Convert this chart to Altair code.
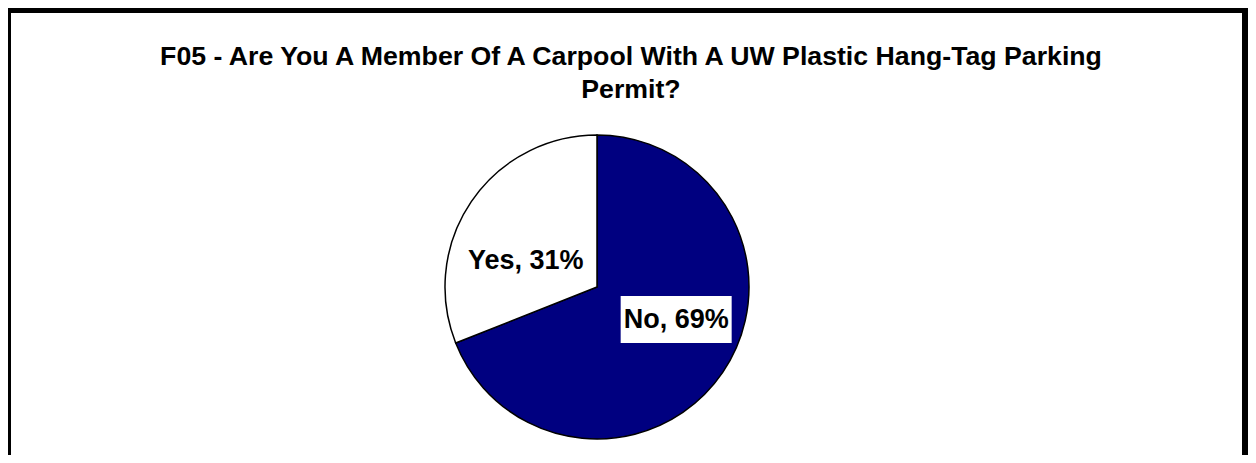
import altair as alt
import pandas as pd

# ---- data ----
categories = ["No", "Yes"]
percents = [69, 31]
label_texts = ["No, 69%", "Yes, 31%"]
slice_colors = ["#000080", "#FFFFFF"]
title_lines = [
    "F05 - Are You A Member Of A Carpool With A UW Plastic Hang-Tag Parking",
    "Permit?",
]

df = pd.DataFrame({
    "category": categories,
    "percent": percents,
    "label": label_texts,
    "order": list(range(len(categories))),
})
one = pd.DataFrame({"k": [0]})

# ---- layout ----
W, H = 1240, 447
CX, CY, R = 589, 279, 152
LR = 80
FONT = "Liberation Sans"
FS = 27
TITLE_FS = 26.7

base = alt.Chart(df)

pie = base.mark_arc(radius=R, stroke="black", strokeWidth=1.5).encode(
    theta=alt.Theta("percent:Q", stack=True),
    color=alt.Color("category:N",
                    scale=alt.Scale(domain=categories, range=slice_colors),
                    legend=None),
    order=alt.Order("order:Q"),
    x=alt.value(CX),
    y=alt.value(CY),
)

labelled = base.transform_joinaggregate(
    total="sum(percent)"
).transform_window(
    cum="sum(percent)", sort=[alt.SortField("order")], frame=[None, 0]
).transform_calculate(
    ang="2*PI*(datum.cum - datum.percent/2)/datum.total"
).transform_calculate(
    lx=f"{CX} + {LR}*sin(datum.ang)",
    ly=f"{CY} - {LR}*cos(datum.ang)",
)

NO_DX, NO_DY = 13, -4
YES_DX, YES_DY = -5, 27
BOX_W, BOX_TOP, BOX_BOT = 111, 32, 15

no_box = labelled.transform_filter("datum.category == 'No'").transform_calculate(
    bx1=f"datum.lx + {NO_DX} - {BOX_W/2}",
    bx2=f"datum.lx + {NO_DX} + {BOX_W/2}",
    by1=f"datum.ly + {NO_DY} - {BOX_TOP}",
    by2=f"datum.ly + {NO_DY} + {BOX_BOT}",
).mark_rect(fill="white", stroke=None).encode(
    x=alt.X("bx1:Q", scale=None, axis=None),
    x2="bx2:Q",
    y=alt.Y("by1:Q", scale=None, axis=None),
    y2="by2:Q",
)

def label_layer(cat, dx, dy):
    return labelled.transform_filter(f"datum.category == '{cat}'").mark_text(
        font=FONT, fontSize=FS, fontWeight="bold", color="black",
        align="center", baseline="alphabetic", dx=dx, dy=dy,
    ).encode(
        x=alt.X("lx:Q", scale=None, axis=None),
        y=alt.Y("ly:Q", scale=None, axis=None),
        text="label:N",
    )

no_text = label_layer("No", NO_DX, NO_DY)
yes_text = label_layer("Yes", YES_DX, YES_DY)

title = alt.Chart(one).mark_text(
    text=title_lines, font=FONT, fontSize=TITLE_FS, fontWeight="bold",
    color="black", align="center", baseline="alphabetic", lineHeight=33,
).encode(x=alt.value(623), y=alt.value(57))

border = alt.Chart(one).mark_rect(
    filled=False, stroke="black", strokeWidth=6
).encode(
    x=alt.value(0), x2=alt.value(1237), y=alt.value(2), y2=alt.value(700)
)

chart = alt.layer(border, pie, no_box, no_text, yes_text, title).properties(
    width=W, height=H,
    autosize=alt.AutoSizeParams(type="none"),
    padding=0,
    background="white",
).configure_view(stroke=None)

chart.save("out.html", embed_options={"renderer": "svg", "actions": False})
